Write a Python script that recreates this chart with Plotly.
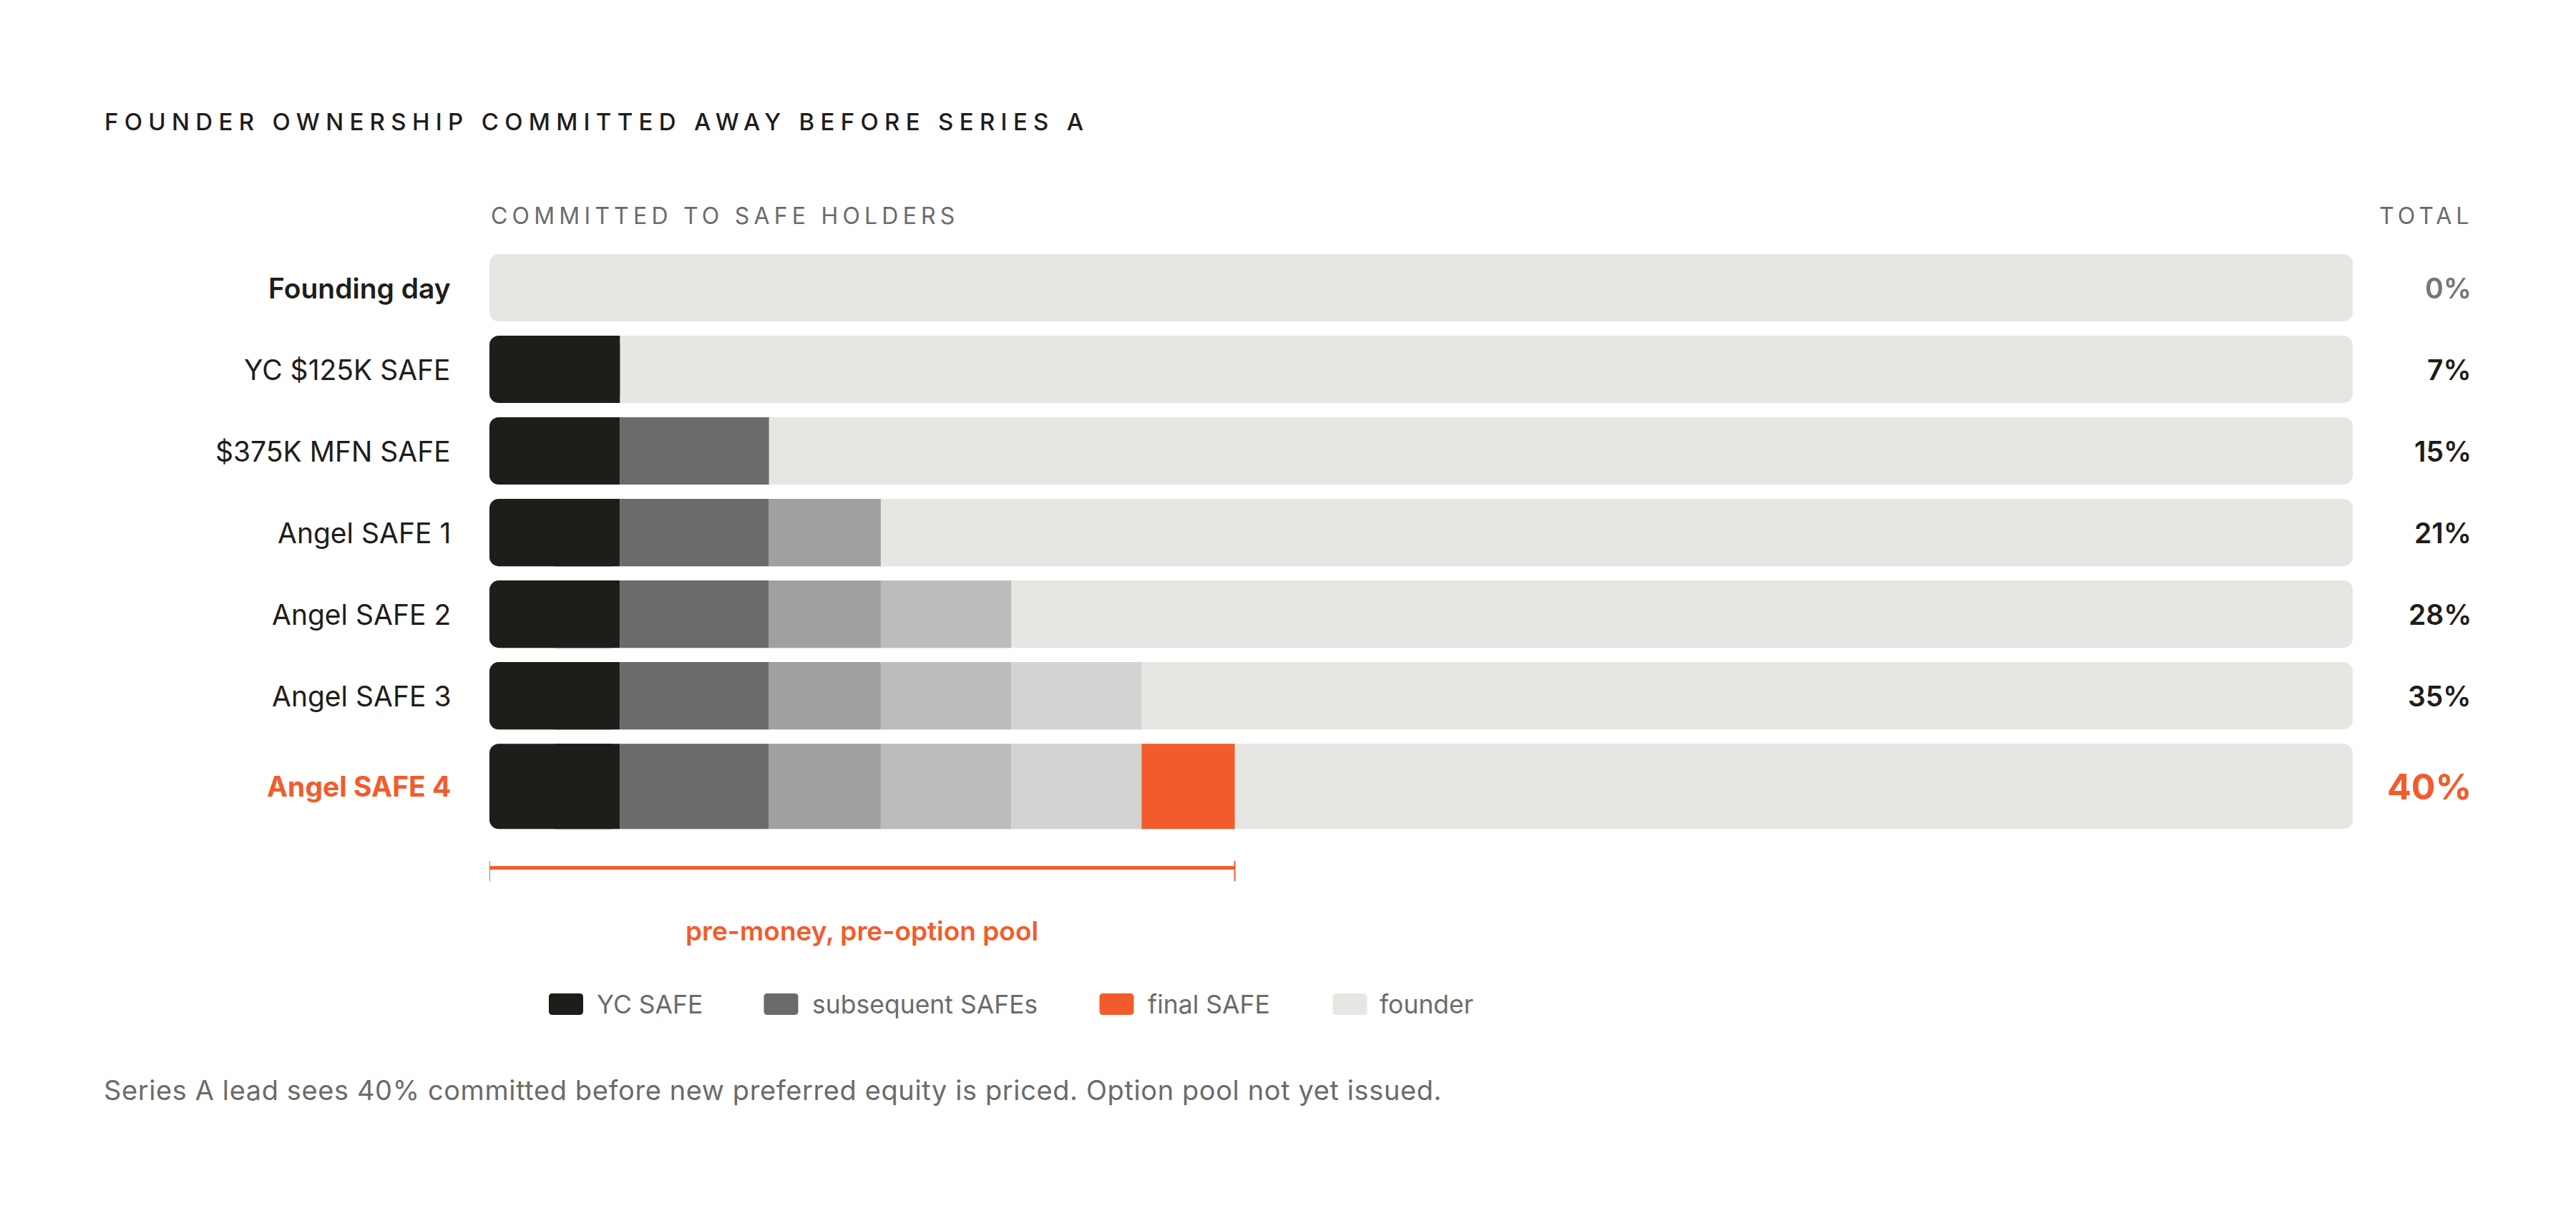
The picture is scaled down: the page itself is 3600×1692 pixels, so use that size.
import plotly.graph_objects as go

# ---------------- data ----------------
rows = ["Founding day", "YC $125K SAFE", "$375K MFN SAFE", "Angel SAFE 1",
        "Angel SAFE 2", "Angel SAFE 3", "Angel SAFE 4"]
safe_names = ["YC $125K SAFE", "$375K MFN SAFE", "Angel SAFE 1",
              "Angel SAFE 2", "Angel SAFE 3", "Angel SAFE 4"]
safe_pct = [7, 8, 6, 7, 7, 5]          # % committed by each SAFE
safe_first_row = [1, 2, 3, 4, 5, 6]    # row where each SAFE first appears
totals = [0, 7, 15, 21, 28, 35, 40]    # cumulative % committed per row
total_labels = ["0%", "7%", "15%", "21%", "28%", "35%", "40%"]
legend_labels = ["YC SAFE", "subsequent SAFEs", "final SAFE", "founder"]
title_text = "FOUNDER OWNERSHIP COMMITTED AWAY BEFORE SERIES A"
left_header = "COMMITTED TO SAFE HOLDERS"
right_header = "TOTAL"
bracket_label = "pre-money, pre-option pool"
footnote = ("Series A lead sees 40% committed before new preferred equity is priced. "
            "Option pool not yet issued.")

# ---------------- style ----------------
W, H = 3600, 1692
ML, MR, MT, MB = 684, 312, 345, 526
PW, PH = W - ML - MR, H - MT - MB
Y_RANGE = [6.7, -0.5]
PX_PER_UNIT = PH / (Y_RANGE[0] - Y_RANGE[1])

DARK = "#1E1D1A"
GRAY_TXT = "#6B6B69"
ORANGE = "#F25C2C"
FOUNDER = "#E7E6E2"
SEG_COLORS = ["#1E1D1A", "#6B6B69", "#A0A09E", "#BCBCBA", "#D3D3D2", ORANGE]
LEGEND_COLORS = ["#1E1D1A", "#6B6B69", ORANGE, FOUNDER]
FONT = "Inter"
RADIUS = 13

BAR_W = 0.825
BAR_OFF = -0.4125
LAST_W = 1.044
LAST_OFF = -0.412


def px_x(px):
    return (px - ML) / PW


def px_y(py):
    return (H - MB - py) / PH


def widths_for(ys):
    return [LAST_W if r == rows[-1] else BAR_W for r in ys]


def offsets_for(ys):
    return [LAST_OFF if r == rows[-1] else BAR_OFF for r in ys]


def bar(ys, xs, bases, color, cr, name):
    return go.Bar(
        y=ys, x=xs, base=bases, orientation="h",
        width=widths_for(ys), offset=offsets_for(ys),
        marker=dict(color=color, cornerradius=cr, line=dict(width=0)),
        hoverinfo="skip", showlegend=False, name=name)


fig = go.Figure()

# founder track: full 0-100 bar, rounded at both ends; SAFE segments drawn over it
fig.add_trace(bar(rows, [100] * len(rows), [0] * len(rows), FOUNDER, RADIUS, "founder"))

# SAFE segments
for k, (name, pct, first) in enumerate(zip(safe_names, safe_pct, safe_first_row)):
    ys = rows[first:]
    start = sum(safe_pct[:k])
    if k == 0:
        # square right half underneath, so only the left end looks rounded
        fig.add_trace(bar(ys, [pct / 2] * len(ys), [start + pct / 2] * len(ys),
                          SEG_COLORS[k], 0, name))
        fig.add_trace(bar(ys, [pct] * len(ys), [start] * len(ys),
                          SEG_COLORS[k], RADIUS, name))
    else:
        fig.add_trace(bar(ys, [pct] * len(ys), [start] * len(ys),
                          SEG_COLORS[k], 0, name))

annotations = []


def row_shift(r):
    if r == rows[-1]:
        return -(LAST_OFF + LAST_W / 2) * PX_PER_UNIT
    return -(BAR_OFF + BAR_W / 2) * PX_PER_UNIT


# row labels and totals
LAB_SIZE = 39
for i, r in enumerate(rows):
    if i == 0:
        lab_font = dict(family=FONT, size=LAB_SIZE, color=DARK, weight=600)
        tot_font = dict(family=FONT, size=39, color="#757575", weight=600)
    elif i == len(rows) - 1:
        lab_font = dict(family=FONT, size=LAB_SIZE, color=ORANGE, weight=700)
        tot_font = dict(family=FONT, size=50, color=ORANGE, weight=700)
    else:
        lab_font = dict(family=FONT, size=LAB_SIZE, color=DARK, weight=400)
        tot_font = dict(family=FONT, size=39, color=DARK, weight=600)
    annotations.append(dict(
        text=r, xref="paper", yref="y", x=px_x(632), y=r, yshift=row_shift(r),
        xanchor="right", yanchor="middle", showarrow=False, font=lab_font))
    annotations.append(dict(
        text=total_labels[i], xref="paper", yref="y", x=px_x(3456), y=r,
        yshift=row_shift(r), xanchor="right", yanchor="middle",
        showarrow=False, font=tot_font))

# title & headers
annotations.append(dict(
    text=f'<span style="letter-spacing:8.3px">{title_text}</span>',
    xref="paper", yref="paper", x=px_x(144), y=px_y(170),
    xanchor="left", yanchor="middle", showarrow=False,
    font=dict(family=FONT, size=33, color=DARK, weight=500)))
annotations.append(dict(
    text=f'<span style="letter-spacing:6.2px">{left_header}</span>',
    xref="paper", yref="paper", x=px_x(684), y=px_y(301),
    xanchor="left", yanchor="middle", showarrow=False,
    font=dict(family=FONT, size=32, color=GRAY_TXT, weight=400)))
annotations.append(dict(
    text=f'<span style="letter-spacing:6px">{right_header}</span>',
    xref="paper", yref="paper", x=px_x(3458), y=px_y(301),
    xanchor="right", yanchor="middle", showarrow=False,
    font=dict(family=FONT, size=32, color=GRAY_TXT, weight=400)))

# bracket under the last row
shapes = []
BR_Y = 1212.5
shapes.append(dict(type="line", xref="x", yref="paper", x0=0, x1=totals[-1],
                   y0=px_y(BR_Y), y1=px_y(BR_Y), line=dict(color=ORANGE, width=5)))
for xv in (0, totals[-1]):
    shapes.append(dict(type="line", xref="x", yref="paper", x0=xv, x1=xv,
                       y0=px_y(1203), y1=px_y(1231), line=dict(color=ORANGE, width=2)))
annotations.append(dict(
    text=bracket_label, xref="x", yref="paper", x=totals[-1] / 2, y=px_y(1300),
    xanchor="center", yanchor="middle", showarrow=False,
    font=dict(family=FONT, size=37, color=ORANGE, weight=600)))

# custom legend
LEG_Y = 1403
swatch_cx = [791, 1091.5, 1560.5, 1886.5]
text_x = [832, 1133, 1602, 1926]


def rrect(w, h, r):
    x0, x1, y0, y1 = -w / 2, w / 2, -h / 2, h / 2
    return (f"M{x0 + r},{y0} L{x1 - r},{y0} Q{x1},{y0} {x1},{y0 + r} "
            f"L{x1},{y1 - r} Q{x1},{y1} {x1 - r},{y1} L{x0 + r},{y1} "
            f"Q{x0},{y1} {x0},{y1 - r} L{x0},{y0 + r} Q{x0},{y0} {x0 + r},{y0} Z")


for lab, col, cx, tx in zip(legend_labels, LEGEND_COLORS, swatch_cx, text_x):
    shapes.append(dict(type="path", xref="paper", yref="paper",
                       xsizemode="pixel", ysizemode="pixel",
                       xanchor=px_x(cx), yanchor=px_y(LEG_Y),
                       path=rrect(48, 30, 5), fillcolor=col, line=dict(width=0)))
    annotations.append(dict(
        text=lab, xref="paper", yref="paper", x=px_x(tx), y=px_y(LEG_Y),
        xanchor="left", yanchor="middle", showarrow=False,
        font=dict(family=FONT, size=35.5, color=GRAY_TXT, weight=400)))

# footnote
annotations.append(dict(
    text=f'<span style="letter-spacing:0.6px">{footnote}</span>',
    xref="paper", yref="paper", x=px_x(143), y=px_y(1523),
    xanchor="left", yanchor="middle", showarrow=False,
    font=dict(family=FONT, size=38, color=GRAY_TXT, weight=400)))

fig.update_layout(
    width=W, height=H,
    margin=dict(l=ML, r=MR, t=MT, b=MB, pad=0),
    paper_bgcolor="white", plot_bgcolor="white",
    barmode="overlay",
    xaxis=dict(range=[0, 100], visible=False, fixedrange=True),
    yaxis=dict(type="category", categoryorder="array", categoryarray=rows,
               range=Y_RANGE, visible=False, fixedrange=True),
    annotations=annotations, shapes=shapes,
    showlegend=False,
    font=dict(family=FONT),
)

fig.write_html("out.html", config={"displayModeBar": False})
